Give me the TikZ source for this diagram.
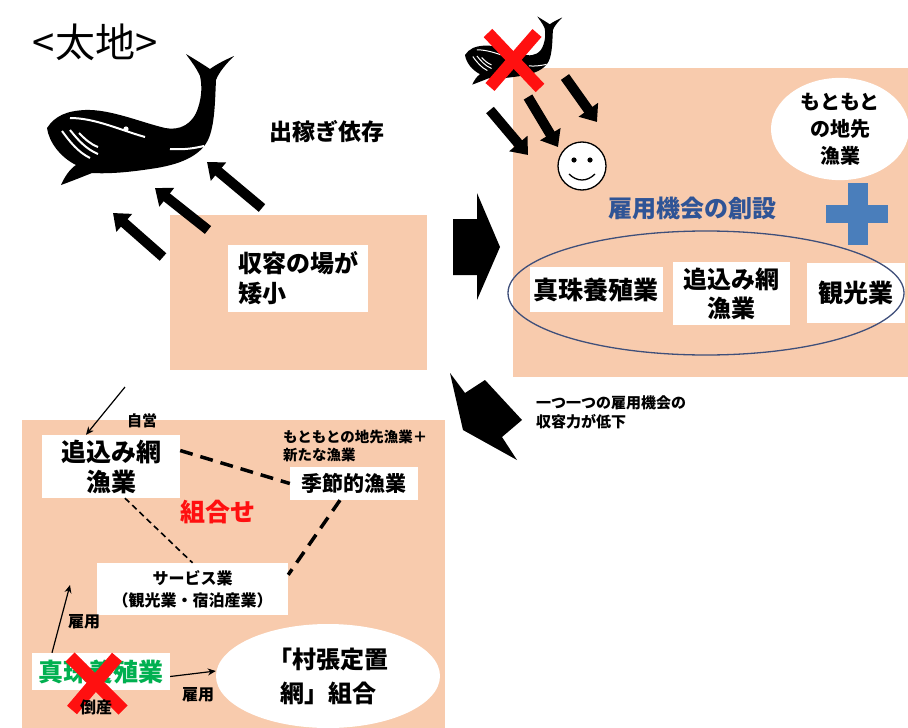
\documentclass[tikz,border=0pt]{standalone}
\usepackage{fontspec}
\setmainfont{Noto Sans CJK JP}
\usetikzlibrary{arrows.meta,shapes.geometric}
\definecolor{peach}{HTML}{F8CBAD}
\definecolor{plusblue}{HTML}{4A7EBB}
\definecolor{headblue}{HTML}{2F5496}
\definecolor{ringcol}{HTML}{3F4F7A}
\definecolor{leafgreen}{HTML}{00B050}
\definecolor{alarm}{HTML}{FF1010}
\newcommand\fsz[2]{\fontsize{#1}{#2}\selectfont}
\tikzset{
  txt/.style={inner sep=0pt, align=center},
  wbox/.style={fill=white, inner sep=0pt, align=center},
  fatarrow/.style={line width=10pt, -{Triangle[width=23pt,length=15pt]}},
  thinarrow/.style={line width=1.2pt, -{Stealth[length=8pt,width=7pt]}},
  bolddash/.style={line width=3.5pt, dash pattern=on 13pt off 8pt},
  finedash/.style={line width=1.6pt, dash pattern=on 6pt off 4pt},
  crossmark/.style={alarm, line width=12pt},
  whaleline/.style={white, line width=2pt},
  whale/.pic={
    \fill[black] (47,128)
      .. controls (55,116) and (66,111) .. (85,110)
      .. controls (110,109) and (140,122) .. (165,128)
      .. controls (180,131) and (193,124) .. (198,108)
      .. controls (202,96) and (202,85) .. (200,76)
      .. controls (196,67) and (190,60) .. (186,54)
      .. controls (196,60) and (204,65) .. (210,69)
      .. controls (217,64) and (225,60) .. (234,56)
      .. controls (226,64) and (219,72) .. (216,80)
      .. controls (215,100) and (215,125) .. (208,140)
      .. controls (200,156) and (180,165) .. (150,169)
      .. controls (130,172) and (110,174) .. (92,173)
      .. controls (82,177) and (72,181) .. (61,185)
      .. controls (65,176) and (70,169) .. (76,165)
      .. controls (60,157) and (49,142) .. (47,128) -- cycle;
    \draw[whaleline] (70,118) .. controls (95,118) and (120,130) .. (145,137);
    \draw[whaleline] (62,131) .. controls (70,142) and (78,152) .. (90,158);
    \draw[whaleline] (70,130) .. controls (78,140) and (86,149) .. (98,154);
    \draw[whaleline] (79,133) .. controls (85,139) and (90,144) .. (98,147);
    \draw[whaleline] (170,149) .. controls (185,150) and (195,148) .. (204,146);
    \fill[white] (126,129) circle (2.6pt);
  }
}
\begin{document}
\begin{tikzpicture}[x=1pt,y=-1pt]
\useasboundingbox (0,0) rectangle (908,728);

% ---------- upper left: Taiji, dependence on whaling labour ----------
\node[txt, font=\fsz{40}{44}] (title) at (95,42) {<太地>};
\pic at (0,0) {whale};
\node[txt, font=\bfseries\fsz{23}{26}] (dekasegi) at (327,132) {出稼ぎ依存};

\fill[peach] (170,215) rectangle (427,370);
\node[wbox, minimum width=140pt, minimum height=67pt, align=left,
      font=\bfseries\fsz{24}{30}] (shuyo) at (298,278) {収容の場が\\矮小};

\coordinate (ua1) at (163,257); \coordinate (ub1) at (113,213);
\coordinate (ua2) at (208,230); \coordinate (ub2) at (155,188);
\coordinate (ua3) at (262,208); \coordinate (ub3) at (207,162);
\draw[fatarrow] (ua1) -- (ub1);
\draw[fatarrow] (ua2) -- (ub2);
\draw[fatarrow] (ua3) -- (ub3);

% block arrow to the right panel
\fill[black] (453,219) -- (477,219) -- (477,193) -- (500,247)
  -- (477,300) -- (477,275) -- (453,275) -- cycle;

% ---------- upper right: new employment ----------
\fill[peach] (513,68) rectangle (908,377);

\pic[scale=0.52, whaleline/.style={white, line width=1pt}] at (440.56,-11.6) {whale};
\draw[crossmark] (488,33) -- (540,88);
\draw[crossmark] (537,33) -- (490,87);

\coordinate (da1) at (490,110); \coordinate (db1) at (528,155);
\coordinate (da2) at (528,97);  \coordinate (db2) at (558,147);
\coordinate (da3) at (565,77);  \coordinate (db3) at (597,122);
\draw[fatarrow] (da1) -- (db1);
\draw[fatarrow] (da2) -- (db2);
\draw[fatarrow] (da3) -- (db3);

\node[circle, draw, fill=white, line width=1.3pt, minimum size=48pt, inner sep=0pt] (smile) at (582,166) {};
\fill ([shift={(-8,-6)}]smile.center) circle (2.6pt);
\fill ([shift={(8,-6)}]smile.center) circle (2.6pt);
\draw[line width=1.3pt] ([shift={(-13,8)}]smile.center)
  .. controls ([shift={(-5,16)}]smile.center) and ([shift={(5,16)}]smile.center)
  .. ([shift={(13,8)}]smile.center);

\node[txt, text=headblue, font=\bfseries\fsz{24}{28}] (sosetsu) at (692,208) {雇用機会の創設};

\node[ellipse, fill=white, minimum width=138pt, minimum height=90pt, inner sep=0pt,
      align=center, font=\bfseries\fsz{20}{27}] (jisaki) at (840,129) {もともと\\の地先\\漁業};
\fill[plusblue] (826,205) rectangle (888,223);
\fill[plusblue] (848,183) rectangle (868,245);

\node[wbox, minimum width=133pt, minimum height=45pt, font=\bfseries\fsz{25}{30}] (shinjuR) at (596,289.5) {真珠養殖業};
\node[wbox, minimum width=117pt, minimum height=63pt, font=\bfseries\fsz{24}{29}] (oikomiR) at (731.5,293.5) {追込み網\\漁業};
\node[wbox, minimum width=98pt, minimum height=60pt, font=\bfseries\fsz{25}{30}] (kanko) at (856,293) {観光業};
\node[ellipse, draw=ringcol, line width=1.3pt, minimum width=396pt, minimum height=124pt] (sangyo) at (706,293) {};

% block arrow down to the lower panel
\fill[black] (450,373) -- (463,430) -- (517,460) -- (502,437) -- (522,420)
  -- (485,380) -- (465,393) -- cycle;
\node[txt, align=left, anchor=west, font=\bfseries\fsz{15}{19}] (teika) at (536,412)
  {一つ一つの雇用機会の\\収容力が低下};

% ---------- lower left: combining occupations ----------
\fill[peach] (22,420) rectangle (445,728);

\node[wbox, minimum width=138pt, minimum height=63pt, font=\bfseries\fsz{25}{30}] (oikomi) at (111,466.5) {追込み網\\漁業};
\node[txt, font=\bfseries\fsz{15}{18}] (jiei) at (142,421) {自営};
\coordinate (jieistart) at (125,387);
\draw[thinarrow] (jieistart) -- ([xshift=-25pt]oikomi.north);

\node[txt, align=left, anchor=west, font=\bfseries\fsz{14.5}{18}] (moto) at (283,446)
  {もともとの地先漁業＋\\新たな漁業};
\node[wbox, minimum width=128pt, minimum height=33pt, font=\bfseries\fsz{21}{24}] (kisetsu) at (354,483.5) {季節的漁業};
\node[txt, text=alarm, font=\bfseries\fsz{25}{28}] (kumiawase) at (218,512) {組合せ};

\node[wbox, minimum width=191pt, minimum height=52pt, font=\bfseries\fsz{16}{22}] (service) at (192.5,589) {サービス業\\（観光業・宿泊産業）};

\draw[bolddash] (oikomi.13) -- (kisetsu.west);
\draw[finedash] ([xshift=14pt]oikomi.south) -- (service.north);
\draw[bolddash] ([xshift=-14pt]kisetsu.south) -- ([yshift=-12pt]service.north east);

\node[wbox, minimum width=138pt, minimum height=37pt, text=leafgreen, font=\bfseries\fsz{25}{28}] (shinju) at (101,671.5) {真珠養殖業};
\coordinate (koyoup) at (70,585);
\draw[thinarrow] ([xshift=-49pt]shinju.north) -- (koyoup);
\node[txt, font=\bfseries\fsz{16}{18}] (koyo1) at (84,622) {雇用};

\node[ellipse, fill=white, minimum width=224pt, minimum height=104pt, inner sep=0pt,
      align=center, font=\bfseries\fsz{24}{34}] (kumiai) at (328,676) {「村張定置\\網」組合};
\draw[thinarrow] ([yshift=-5pt]shinju.east) -- ([yshift=5pt]kumiai.west);
\node[txt, font=\bfseries\fsz{16}{18}] (koyo2) at (198,695) {雇用};

\draw[crossmark, line width=13pt] (70,657) -- (123,710);
\draw[crossmark, line width=13pt] (117,657) -- (72,710);
\node[txt, font=\bfseries\fsz{16}{18}] (tosan) at (96,707) {倒産};
\end{tikzpicture}
\end{document}
